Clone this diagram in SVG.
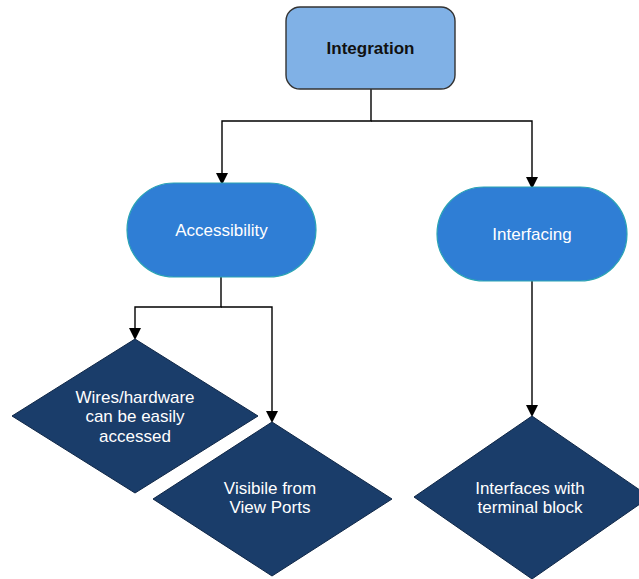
<svg xmlns="http://www.w3.org/2000/svg" width="639" height="579" viewBox="0 0 639 579">
  <defs>
    <marker id="arrow" markerWidth="12" markerHeight="12" refX="10" refY="6" orient="auto" markerUnits="userSpaceOnUse">
      <path d="M0,0 L12,6 L0,12 Z" fill="#000"/>
    </marker>
    <style>
      .lbl { font-family: "Liberation Sans", Arial, sans-serif; font-size: 17px; text-anchor: middle; dominant-baseline: central; }
      .light { fill: #ffffff; }
      .stadium { fill: #2f7ed5; stroke: #2aa3b4; stroke-width: 1.2; }
      .diamond { fill: #1a3d6a; stroke: #0f2747; stroke-width: 1; }
      .wire { fill: none; stroke: #000; stroke-width: 1.4; }
    </style>
  </defs>
  <rect width="639" height="579" fill="#ffffff"/>

  <g id="connectors">
    <path class="wire" d="M371,89 V121 H222 V183" marker-end="url(#arrow)"/>
    <path class="wire" d="M371,121 H532 V187" marker-end="url(#arrow)"/>
    <path class="wire" d="M221,277 V307 H135 V338" marker-end="url(#arrow)"/>
    <path class="wire" d="M221,307 H272 V421" marker-end="url(#arrow)"/>
    <path class="wire" d="M532,281 V415" marker-end="url(#arrow)"/>
  </g>

  <g id="integration">
    <rect x="286" y="7" width="169" height="82" rx="14" fill="#80b1e6" stroke="#333" stroke-width="1.4"/>
    <text class="lbl" x="370.5" y="48" font-weight="bold" fill="#111">Integration</text>
  </g>

  <g id="accessibility">
    <rect class="stadium" x="127" y="183" width="189" height="94" rx="47"/>
    <text class="lbl light" x="221.5" y="230">Accessibility</text>
  </g>

  <g id="interfacing">
    <rect class="stadium" x="437" y="187" width="190" height="94" rx="47"/>
    <text class="lbl light" x="532" y="234">Interfacing</text>
  </g>

  <g id="wires-hardware">
    <polygon class="diamond" points="135,339 258,416 135,493 12,416"/>
    <text class="lbl light" x="135" y="397">Wires/hardware</text>
    <text class="lbl light" x="135" y="416.5">can be easily</text>
    <text class="lbl light" x="135" y="436">accessed</text>
  </g>

  <g id="view-ports">
    <polygon class="diamond" points="272,422 392,499 272,576 153,499"/>
    <text class="lbl light" x="270" y="488">Visibile from</text>
    <text class="lbl light" x="270" y="507.5">View Ports</text>
  </g>

  <g id="terminal-block">
    <polygon class="diamond" points="532,416 650,497 532,579 414,497"/>
    <text class="lbl light" x="530" y="488">Interfaces with</text>
    <text class="lbl light" x="530" y="507.5">terminal block</text>
  </g>
</svg>
